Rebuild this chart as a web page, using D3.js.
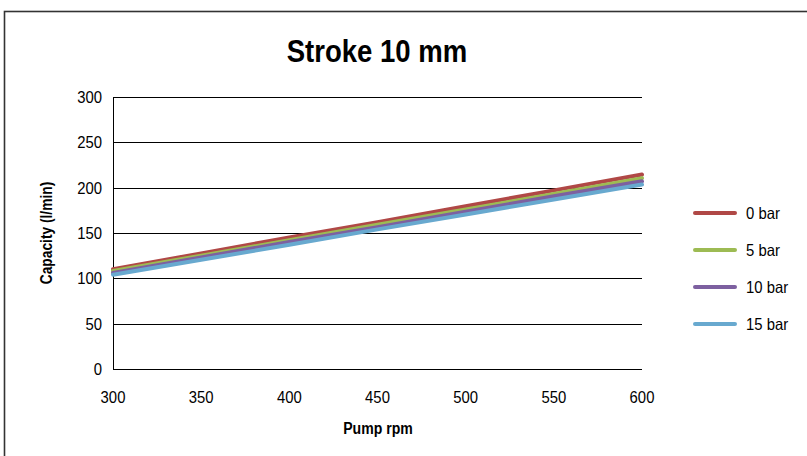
<!DOCTYPE html>
<html><head><meta charset="utf-8">
<script src="https://cdn.jsdelivr.net/npm/d3@7"></script>
<style>
body{margin:0;background:#fff;}
svg{display:block;}
text{font-family:"Liberation Sans Narrow","Arial Narrow","Liberation Sans",Arial,sans-serif;}
</style></head>
<body>
<svg id="chart" width="807" height="456"></svg>
<script>
const rpm = [300, 350, 400, 450, 500, 550, 600];
const seriesNames = ["0 bar", "5 bar", "10 bar", "15 bar"];
const bar0 = [110, 127.5, 145, 162, 179.5, 197, 214.5];
const bar5 = [108, 125, 142, 159, 176, 193, 210.5];
const bar10 = [106, 123, 140, 156.5, 173.5, 190.5, 207];
const bar15 = [104, 120.5, 137, 154, 170.5, 187, 203.5];
const yTicks = [0, 50, 100, 150, 200, 250, 300];
const xTicks = [300, 350, 400, 450, 500, 550, 600];
const colors = ["#B04846", "#9DBB53", "#7D60A0", "#68A9CF"];
const allSeries = [bar0, bar5, bar10, bar15];

const svg = d3.select("#chart");
svg.append("rect").attr("x",4.5).attr("y",11.5).attr("width",830).attr("height",470)
  .attr("fill","none").attr("stroke","#333").attr("stroke-width",1.6);

const L=113, R=642, T=97, B=369;
const x = d3.scaleLinear().domain([300,600]).range([L,R]);
const y = d3.scaleLinear().domain([0,300]).range([B,T]);

function condense(sel, f){
  sel.each(function(){
    const w = this.getComputedTextLength();
    d3.select(this).attr("textLength", w*f).attr("lengthAdjust","spacingAndGlyphs");
  });
}

svg.append("text").attr("x",377).attr("y",62).attr("text-anchor","middle")
  .attr("font-size",32).attr("font-weight","bold").text("Stroke 10 mm")
  .call(condense, 0.86);

// gridlines
svg.append("g").selectAll("line").data(yTicks).join("line")
  .attr("x1",L).attr("x2",R).attr("y1",d=>Math.round(y(d))+0.5).attr("y2",d=>Math.round(y(d))+0.5)
  .attr("stroke","#000").attr("stroke-width",1);
svg.append("line").attr("x1",L+0.5).attr("x2",L+0.5).attr("y1",T).attr("y2",B+1).attr("stroke","#000");

// y labels
svg.append("g").selectAll("text").data(yTicks).join("text")
  .attr("x",L-11).attr("y",d=>y(d)+6).attr("text-anchor","end").attr("font-size",16.5).text(d=>d)
  .call(condense, 0.9);
// x labels
svg.append("g").selectAll("text").data(xTicks).join("text")
  .attr("x",d=>x(d)).attr("y",403).attr("text-anchor","middle").attr("font-size",16.5).text(d=>d)
  .call(condense, 0.9);

svg.append("text").attr("x",378).attr("y",434).attr("text-anchor","middle")
  .attr("font-size",16).attr("font-weight","bold").text("Pump rpm").call(condense, 0.88);
svg.append("text").attr("transform","translate(52,233) rotate(-90)").attr("text-anchor","middle")
  .attr("font-size",16).attr("font-weight","bold").text("Capacity (l/min)").call(condense, 0.86);

const line = d3.line().x((d,i)=>x(rpm[i])).y(d=>y(d));
allSeries.forEach((s,k)=>{
  svg.append("path").datum(s).attr("d",line).attr("fill","none")
    .attr("stroke",colors[k]).attr("stroke-width",4).attr("stroke-linecap","round");
});

const lg = svg.append("g");
const ly = [213, 250, 287, 324];
seriesNames.forEach((n,k)=>{
  lg.append("line").attr("x1",695).attr("x2",735).attr("y1",ly[k]).attr("y2",ly[k])
    .attr("stroke",colors[k]).attr("stroke-width",4).attr("stroke-linecap","round");
  lg.append("text").attr("x",746).attr("y",ly[k]+6).attr("font-size",16.5).text(n).call(condense, 0.9);
});
</script>
</body></html>
